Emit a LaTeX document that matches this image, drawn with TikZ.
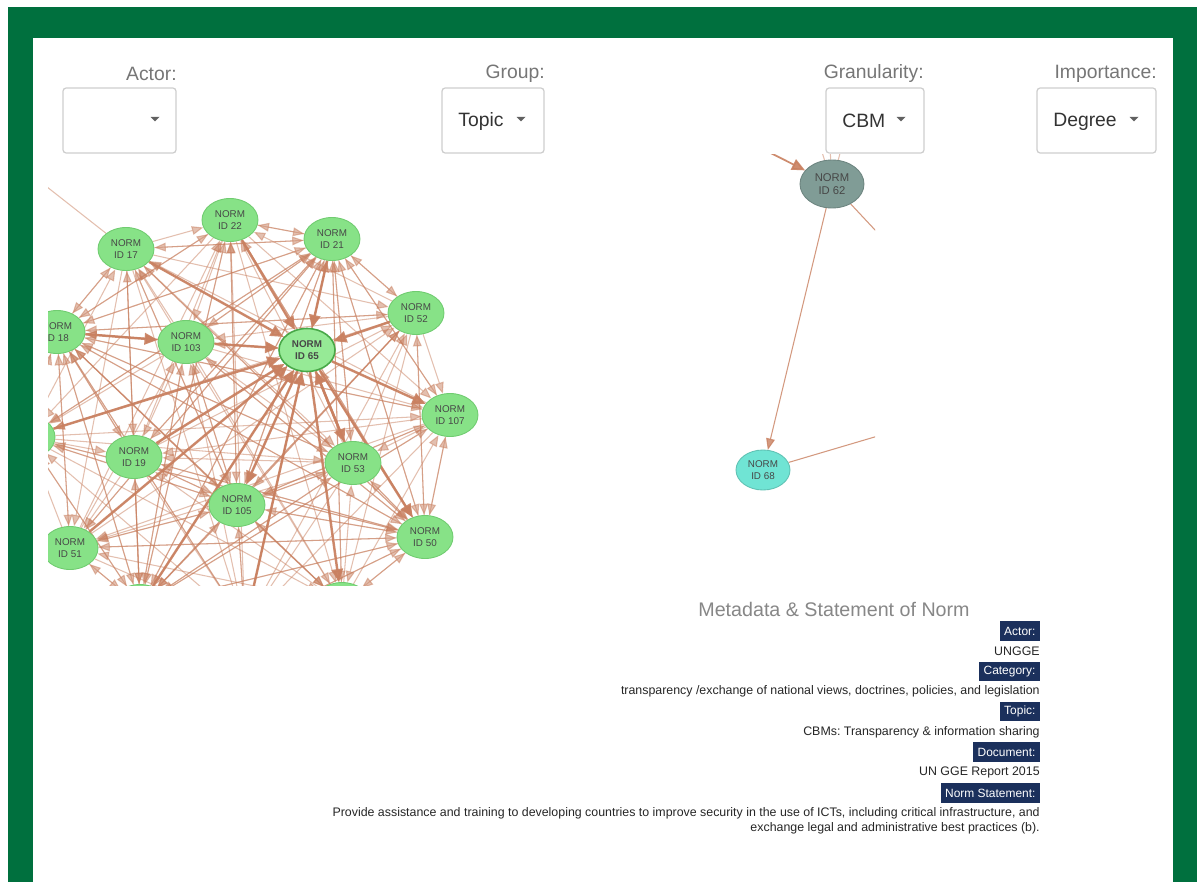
\documentclass[tikz,border=0pt]{standalone}
\usepackage{fontspec}
\setmainfont{Liberation Sans}
\usetikzlibrary{shapes.geometric,arrows.meta}
\definecolor{framegreen}{RGB}{0,112,62}
\definecolor{nodegreen}{RGB}{135,226,135}
\definecolor{nodeedge}{RGB}{112,204,112}
\definecolor{hubgreen}{RGB}{150,234,150}
\definecolor{hubedge}{RGB}{72,168,72}
\definecolor{linkbrown}{RGB}{201,128,96}
\definecolor{greynode}{RGB}{128,156,150}
\definecolor{tealnode}{RGB}{112,228,212}
\definecolor{tagnavy}{RGB}{27,48,92}
\definecolor{labelgrey}{RGB}{118,118,118}
\definecolor{boxgrey}{RGB}{206,206,206}
\pgfdeclarelayer{back}
\pgfdeclarelayer{links}
\pgfsetlayers{back,links,main}
\frenchspacing
\tikzset{
  norm/.style={ellipse, fill=nodegreen, draw=nodeedge, line width=0.5pt,
    minimum width=1.12cm, minimum height=0.86cm, inner sep=0pt, align=center,
    text=black!72, font=\fontsize{5.6}{6.6}\selectfont},
  normhub/.style={norm, fill=hubgreen, draw=hubedge, line width=0.9pt,
    font=\fontsize{5.6}{6.6}\selectfont\bfseries},
  normgrey/.style={norm, fill=greynode, draw=greynode!85!black,
    minimum width=1.28cm, minimum height=0.96cm, font=\fontsize{6.4}{7.4}\selectfont},
  normteal/.style={norm, fill=tealnode, draw=tealnode!85!black,
    minimum width=1.08cm, minimum height=0.8cm},
  link/.style={draw=linkbrown, opacity=0.5, line width=0.6pt,
    -{Triangle[length=6.5pt,width=5pt]}},
  heavylink/.style={draw=linkbrown, opacity=0.9, line width=1.4pt,
    -{Triangle[length=7.5pt,width=6.5pt]}},
  dropbox/.style={draw=boxgrey, line width=0.7pt, rounded corners=1.8pt,
    fill=white, minimum height=1.3cm},
  droplabel/.style={inner sep=0pt, anchor=east, text=labelgrey,
    font=\fontsize{11}{13}\selectfont},
  dropvalue/.style={inner sep=0pt, anchor=west, text=black!80,
    font=\fontsize{11}{13}\selectfont},
  metatag/.style={fill=tagnavy, text=white, anchor=east, inner xsep=2.4pt,
    inner ysep=0pt, minimum height=11pt, font=\fontsize{6.8}{7.8}\selectfont},
  metaval/.style={inner sep=0pt, anchor=east, text=black!85,
    font=\fontsize{7.05}{8.5}\selectfont}
}
\newcommand{\droparrow}[2]{\fill[black!62] (#1-4.5,#2-2.2) -- (#1+4.5,#2-2.2) -- (#1,#2+2.3) -- cycle;}

\begin{document}
\begin{tikzpicture}[x=0.02cm, y=-0.02cm]
  %%%%% START %%%%%
  \useasboundingbox (0,0) rectangle (1197,882);
  \begin{pgfonlayer}{back}
    \fill[white] (0,0) rectangle (1197,882);
    \fill[framegreen] (8,7) rectangle (1197,882);
    \fill[white] (33,38) rectangle (1173,882);
  \end{pgfonlayer}

  % selectors
  \node[droplabel] (actorlbl) at (177,74) {Actor:};
  \node[dropbox, minimum width=2.26cm] (actorbox) at (119.5,120.5) {};
  \droparrow{155}{119}
  \node[droplabel] (grouplbl) at (545,74) {Group:};
  \node[dropbox, minimum width=2.04cm] (groupbox) at (493,120.5) {};
  \node[dropvalue] (groupval) at (458,122) {Topic};
  \droparrow{521}{119}
  \node[droplabel] (granlbl) at (924,74) {Granularity:};
  \node[dropbox, minimum width=1.96cm] (granbox) at (875,120.5) {};
  \node[dropvalue] (granval) at (842,121) {CBM};
  \droparrow{901}{119}
  \node[droplabel] (implbl) at (1157,74) {Importance:};
  \node[dropbox, minimum width=2.38cm] (impbox) at (1096.5,120.5) {};
  \node[dropvalue] (impval) at (1053,122) {Degree};
  \droparrow{1134}{119}

  % network
  \begin{scope}
    \clip (48,155) rectangle (875,585);
    \node[norm] (n17) at (126,249) {NORM\\ID 17};
    \node[norm] (n22) at (230,220) {NORM\\ID 22};
    \node[norm] (n21) at (332,239) {NORM\\ID 21};
    \node[norm] (n52) at (416,313) {NORM\\ID 52};
    \node[norm] (n107) at (450,415) {NORM\\ID 107};
    \node[norm] (n50) at (425,537) {NORM\\ID 50};
    \node[norm] (n53) at (353,463) {NORM\\ID 53};
    \node[normhub] (n65) at (307,350) {NORM\\ID 65};
    \node[norm] (n103) at (186,342) {NORM\\ID 103};
    \node[norm] (n18) at (57,332) {NORM\\ID 18};
    \node[norm] (n19) at (134,457) {NORM\\ID 19};
    \node[norm] (n105) at (237,505) {NORM\\ID 105};
    \node[norm] (n51) at (70,548) {NORM\\ID 51};
    \node[norm] (hl) at (27,437) {};
    \node[norm] (hb1) at (140,606) {};
    \node[norm] (hb2) at (342,604) {};
    \node[norm] (hb3) at (245,625) {};
    \node[normgrey] (n62) at (832,184) {NORM\\ID 62};
    \node[normteal] (n68) at (763,470) {NORM\\ID 68};
  \end{scope}

  \begin{pgfonlayer}{links}
    \begin{scope}
      \clip (48,155) rectangle (875,585);
      \foreach \a [count=\i] in {n17,n22,n21,n52,n107,n50,hb2,hb3,hb1,n51,hl,n18,n103,n19,n105,n53,n65}{
        \foreach \b [count=\j] in {n17,n22,n21,n52,n107,n50,hb2,hb3,hb1,n51,hl,n18,n103,n19,n105,n53,n65}{
          \ifnum\i<\j
            \ifodd\numexpr\i+\j\relax
              \draw[link] (\a) -- (\b);
            \else
              \draw[link] (\b) -- (\a);
            \fi
            % some pairs point both ways
            \ifnum\numexpr\i*\j-3*((\i*\j)/3)\relax=0
              \ifodd\numexpr\i+\j\relax
                \draw[link] (\b) -- (\a);
              \else
                \draw[link] (\a) -- (\b);
              \fi
            \fi
          \fi
        }
      }
      \foreach \a in {n17,n22,n21,n52,n103,hl,n19,n51,hb1,hb3,n53}
        \draw[heavylink] (\a) -- (n65);
      \foreach \b in {n107,n105,n50,hb2,n53}
        \draw[heavylink] (n65) -- (\b);
      \draw[heavylink] (n18) -- (n103);
      \coordinate (farleft) at (0,150);
      \draw[link,-] (farleft) -- (n17);

      \coordinate (in62) at (745,140);
      \coordinate (up62a) at (812,120);
      \coordinate (up62b) at (828,110);
      \coordinate (up62c) at (850,115);
      \coordinate (out62) at (905,262);
      \coordinate (out68) at (905,428);
      \draw[heavylink, line width=1pt] (in62) -- (n62);
      \draw[link,-] (n62) -- (up62a);
      \draw[link,-] (n62) -- (up62b);
      \draw[link,-] (n62) -- (up62c);
      \draw[link, opacity=0.8] (n62) -- (n68);
      \draw[link,-, opacity=0.8] (n62) -- (out62);
      \draw[link,-, opacity=0.8] (n68) -- (out68);
    \end{scope}
  \end{pgfonlayer}

  % metadata
  \node[inner sep=0pt, text=black!47, font=\fontsize{11.2}{13}\selectfont] (metatitle) at (834,609) {Metadata \& Statement of Norm};
  \node[metatag] (tagactor) at (1040,631) {Actor:};
  \node[metaval] (valactor) at (1040,651) {UNGGE};
  \node[metatag] (tagcat) at (1040,671.5) {Category:};
  \node[metaval] (valcat) at (1040,691.5) {transparency /exchange of national views, doctrines, policies, and legislation};
  \node[metatag] (tagtopic) at (1040,711.5) {Topic:};
  \node[metaval] (valtopic) at (1040,732) {CBMs: Transparency \& information sharing};
  \node[metatag] (tagdoc) at (1040,752) {Document:};
  \node[metaval] (valdoc) at (1040,772) {UN GGE Report 2015};
  \node[metatag] (tagnorm) at (1040,793) {Norm Statement:};
  \node[metaval, anchor=north east, align=right] (valnorm) at (1040,807.5) {Provide assistance and training to developing countries to improve security in the use of ICTs, including critical infrastructure, and\\exchange legal and administrative best practices (b).};
  %%%%% END %%%%%
\end{tikzpicture}
\end{document}
